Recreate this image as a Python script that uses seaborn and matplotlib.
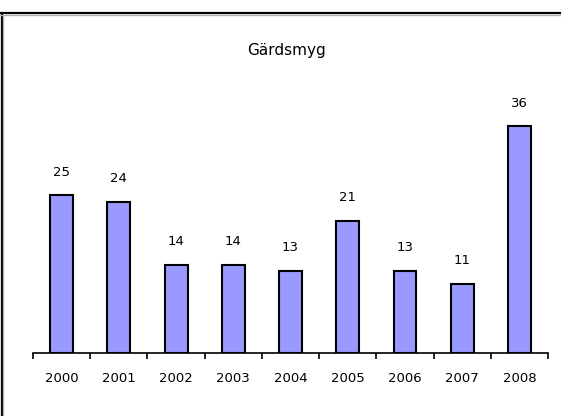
import matplotlib
matplotlib.use("Agg")
import matplotlib.pyplot as plt
import seaborn as sns
import pandas as pd
from matplotlib.lines import Line2D

# data
years = ["2000", "2001", "2002", "2003", "2004", "2005", "2006", "2007", "2008"]
counts = [25, 24, 14, 14, 13, 21, 13, 11, 36]
title = "Gärdsmyg"

df = pd.DataFrame({"year": years, "count": counts})

sns.set_style("white")
plt.rcParams["font.family"] = ["DejaVu Sans"]
plt.rcParams["text.color"] = "black"
plt.rcParams["xtick.color"] = "black"

fig = plt.figure(figsize=(5.61, 4.16), dpi=100)
ax = fig.add_axes([33 / 561, 63 / 416, 515 / 561, 252 / 416])

sns.barplot(data=df, x="year", y="count", color="#9999FF", width=0.4,
            edgecolor="black", linewidth=1.5, saturation=1, ax=ax)

ax.set_xlim(-0.5, len(years) - 0.5)
ax.set_ylim(0, 40)
ax.set_xlabel("")
ax.set_ylabel("")
ax.set_yticks([])
for s in ["top", "right", "left"]:
    ax.spines[s].set_visible(False)
ax.spines["bottom"].set_linewidth(1.2)
ax.spines["bottom"].set_color("black")

# labels centred, ticks between categories
ax.set_xticks(range(len(years)))
ax.set_xticklabels(years, fontsize=9.5, color="black")
ax.tick_params(axis="x", which="major", length=0, pad=14)
ax.set_xticks([i - 0.5 for i in range(len(years) + 1)], minor=True)
ax.tick_params(axis="x", which="minor", bottom=True, length=4, width=1.2,
               color="black", direction="out")

for i, v in enumerate(counts):
    ax.annotate(str(v), (i, v), xytext=(0, 12), textcoords="offset points",
                ha="center", va="bottom", fontsize=9.5, color="black")

fig.text(286 / 561, 1 - 50 / 416, title, ha="center", va="center",
         fontsize=11, color="black")

# screenshot frame: top and left edges only
fig.add_artist(Line2D([0, 1], [1 - 13 / 416] * 2, color="black", lw=1.6, transform=fig.transFigure))
fig.add_artist(Line2D([1.5 / 561] * 2, [0, 1 - 13 / 416], color="black", lw=1.6, transform=fig.transFigure))
fig.add_artist(Line2D([0, 1], [1 - 15 / 416] * 2, color="#b0b0b0", lw=1, transform=fig.transFigure))
fig.add_artist(Line2D([3 / 561] * 2, [0, 1 - 15 / 416], color="#b0b0b0", lw=1, transform=fig.transFigure))

fig.savefig("out.png", dpi=100)
